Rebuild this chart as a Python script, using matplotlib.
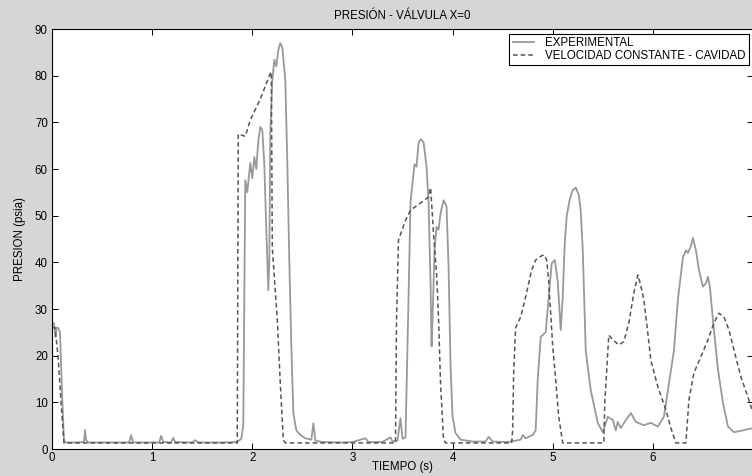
import matplotlib
matplotlib.use('Agg')
import matplotlib.pyplot as plt

# experimental pressure
exp_t = [0.00, 0.02, 0.035, 0.045, 0.06, 0.08, 0.10, 0.12, 0.14, 0.25, 0.32, 0.33, 0.34, 0.36,
         0.55, 0.77, 0.79, 0.81, 0.95, 1.07, 1.09, 1.11, 1.19, 1.21, 1.23, 1.40, 1.43, 1.46,
         1.70, 1.85, 1.89, 1.91, 1.93, 1.95, 1.98, 2.00, 2.02, 2.04, 2.06, 2.08, 2.10, 2.12,
         2.14, 2.16, 2.17, 2.18, 2.20, 2.22, 2.24, 2.26, 2.28, 2.30, 2.33, 2.35, 2.37, 2.39,
         2.41, 2.44, 2.48, 2.53, 2.59, 2.61, 2.63, 2.70, 2.90, 3.00, 3.13, 3.16, 3.30, 3.38,
         3.40, 3.45, 3.48, 3.50, 3.53, 3.56, 3.58, 3.62, 3.64, 3.66, 3.68, 3.71, 3.74, 3.76,
         3.78, 3.79, 3.80, 3.82, 3.84, 3.86, 3.88, 3.91, 3.94, 3.96, 3.98, 4.00, 4.03, 4.08,
         4.20, 4.33, 4.36, 4.40, 4.55, 4.68, 4.70, 4.73, 4.80, 4.83, 4.85, 4.88, 4.93, 4.96,
         4.99, 5.02, 5.05, 5.08, 5.10, 5.12, 5.14, 5.17, 5.20, 5.23, 5.26, 5.28, 5.30, 5.33,
         5.38, 5.45, 5.50, 5.55, 5.60, 5.63, 5.65, 5.68, 5.73, 5.78, 5.83, 5.91, 5.98, 6.05,
         6.11, 6.16, 6.21, 6.25, 6.30, 6.33, 6.35, 6.38, 6.40, 6.43, 6.46, 6.50, 6.53, 6.55,
         6.57, 6.60, 6.65, 6.70, 6.75, 6.81, 6.88, 6.98]
exp_p = [26.8, 27.0, 24.0, 26.0, 26.0, 25.0, 12.0, 1.6, 1.4, 1.4, 1.5, 4.1, 2.0, 1.4,
         1.4, 1.4, 3.0, 1.4, 1.4, 1.4, 2.8, 1.5, 1.4, 2.4, 1.5, 1.4, 1.9, 1.4,
         1.4, 1.5, 2.2, 5.0, 57.6, 55.0, 61.3, 58.0, 62.6, 60.0, 66.0, 69.0, 68.4, 61.0,
         47.0, 34.0, 40.0, 68.0, 79.0, 83.4, 82.0, 85.5, 87.0, 86.0, 79.0, 61.0, 40.0, 22.0,
         7.7, 4.0, 3.0, 2.3, 2.0, 5.5, 1.8, 1.5, 1.4, 1.5, 2.3, 1.5, 1.5, 2.5,
         1.6, 1.8, 6.6, 2.2, 2.5, 32.0, 53.0, 61.0, 60.5, 65.5, 66.4, 65.8, 60.5, 53.0,
         35.5, 22.0, 28.0, 42.6, 47.6, 47.0, 50.5, 53.3, 52.0, 39.0, 17.6, 6.9, 3.4, 2.0,
         1.6, 1.6, 2.6, 1.6, 1.5, 2.0, 3.0, 2.3, 3.0, 4.0, 14.8, 24.0, 25.0, 32.6,
         39.8, 40.5, 36.0, 25.5, 32.6, 44.0, 50.0, 53.5, 55.5, 56.0, 54.5, 51.0, 42.6, 21.0,
         12.6, 5.6, 3.6, 6.9, 6.2, 4.0, 5.8, 4.5, 6.2, 7.7, 5.8, 5.1, 5.6, 4.8,
         6.9, 14.0, 21.0, 32.0, 41.0, 42.6, 42.0, 43.5, 45.2, 42.6, 38.4, 34.8, 35.5, 36.9,
         34.7, 27.6, 17.0, 9.9, 4.8, 3.6, 3.9, 4.4]

# constant speed - cavity model
mod_t = [0.00, 0.03, 0.06, 0.09, 0.12, 0.50, 1.00, 1.50, 1.85, 1.86, 1.93, 1.98, 2.08, 2.18,
         2.19, 2.20, 2.25, 2.28, 2.31, 2.33, 2.80, 3.20, 3.43, 3.44, 3.46, 3.48, 3.53, 3.58,
         3.68, 3.76, 3.78, 3.79, 3.81, 3.84, 3.86, 3.88, 3.91, 3.93, 4.30, 4.59, 4.60, 4.61,
         4.63, 4.68, 4.73, 4.76, 4.79, 4.83, 4.88, 4.91, 4.94, 4.96, 4.98, 5.00, 5.03, 5.06,
         5.10, 5.30, 5.51, 5.52, 5.56, 5.60, 5.66, 5.71, 5.76, 5.81, 5.85, 5.88, 5.91, 5.95,
         5.98, 6.05, 6.13, 6.18, 6.23, 6.33, 6.36, 6.41, 6.48, 6.55, 6.61, 6.66, 6.71, 6.76,
         6.81, 6.88, 6.95, 7.00]
mod_p = [26.0, 26.0, 20.0, 10.0, 1.3, 1.3, 1.3, 1.3, 1.3, 67.5, 67.0, 70.5, 75.0, 80.5,
         80.8, 43.0, 27.6, 14.0, 2.0, 1.3, 1.3, 1.3, 1.3, 27.6, 44.8, 46.0, 49.0, 51.2,
         52.7, 54.0, 56.0, 53.0, 46.0, 37.7, 28.0, 14.0, 2.0, 1.3, 1.3, 1.3, 4.0, 16.3,
         26.0, 28.3, 32.6, 35.5, 38.4, 40.5, 41.3, 41.6, 40.5, 36.0, 29.0, 22.0, 14.8, 6.9,
         1.3, 1.3, 1.3, 10.0, 24.4, 23.4, 22.3, 23.0, 27.0, 33.4, 37.3, 35.0, 32.0, 24.8,
         19.0, 13.3, 8.4, 4.5, 1.3, 1.3, 10.5, 16.3, 19.8, 23.4, 27.0, 29.1, 28.3, 25.5,
         21.2, 15.4, 11.1, 7.7]

xticks = [0, 1, 2, 3, 4, 5, 6]
yticks = [0, 10, 20, 30, 40, 50, 60, 70, 80, 90]

FS = 8.3
plt.rcParams['font.family'] = ['Liberation Sans', 'DejaVu Sans']
plt.rcParams['font.size'] = FS

fig = plt.figure(figsize=(7.52, 4.76), dpi=100, facecolor='#d6d6d6')
ax = fig.add_axes([52 / 752, 1 - 449 / 476, 701 / 752, 420 / 476])
ax.set_facecolor('white')

ax.plot(exp_t, exp_p, color='#999999', lw=1.3, label='EXPERIMENTAL')
ax.plot(mod_t, mod_p, color='#555555', lw=1.1, dashes=(3, 2),
        label='VELOCIDAD CONSTANTE - CAVIDAD')

ax.set_xlim(0, 7)
ax.set_ylim(0, 90)
ax.set_xticks(xticks)
ax.set_yticks(yticks)
ax.tick_params(direction='in', length=4, width=0.7, top=True, right=True, pad=3,
               labelsize=FS)
ax.tick_params(axis='x', pad=2)
for s in ax.spines.values():
    s.set_linewidth(0.8)

ax.set_title('PRESIÓN - VÁLVULA X=0', fontsize=FS, pad=7)
ax.set_ylabel('PRESION (psia)', fontsize=FS, labelpad=6)
# x label placed by hand so it stays inside the canvas
fig.text(0.5 * (52 + 753) / 752, 1 - 467 / 476, 'TIEMPO (s)', fontsize=FS,
         ha='center', va='center')

leg = ax.legend(loc='upper right', bbox_to_anchor=(697 / 701, 415 / 420), fontsize=FS,
                fancybox=False, framealpha=1, edgecolor='black', borderpad=0.3,
                labelspacing=0.05, handlelength=1.8, handletextpad=1.0, borderaxespad=0)
leg.get_frame().set_linewidth(0.8)

fig.savefig('out.png', dpi=100, facecolor=fig.get_facecolor())
